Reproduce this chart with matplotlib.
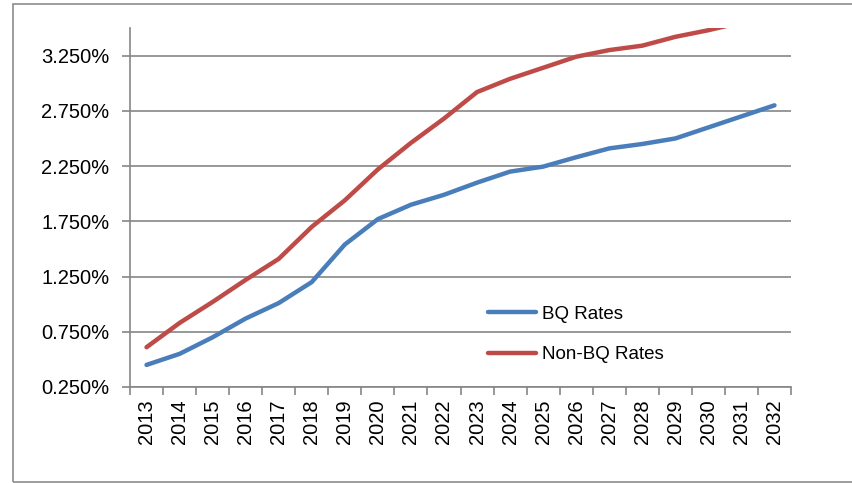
import matplotlib
matplotlib.use("Agg")
import matplotlib.pyplot as plt
from matplotlib.patches import Rectangle
from matplotlib.ticker import FixedLocator, FuncFormatter

years = [str(y) for y in range(2013, 2033)]
bq_rates = [0.45, 0.55, 0.70, 0.87, 1.01, 1.20, 1.54, 1.77, 1.90, 1.99,
            2.10, 2.20, 2.245, 2.33, 2.41, 2.45, 2.50, 2.60, 2.70, 2.80]
non_bq_rates = [0.61, 0.83, 1.02, 1.22, 1.41, 1.70, 1.94, 2.22, 2.46, 2.68,
                2.92, 3.04, 3.14, 3.24, 3.30, 3.34, 3.42, 3.48, 3.55, 3.62]
series_names = ["BQ Rates", "Non-BQ Rates"]
y_ticks = [0.25, 0.75, 1.25, 1.75, 2.25, 2.75, 3.25]

plt.rcParams['font.family'] = ['Liberation Sans', 'DejaVu Sans']

W, H = 852, 483
fig = plt.figure(figsize=(W / 100, H / 100), dpi=100)
fig.patch.set_facecolor('white')

# outer chart border
fig.patches.append(Rectangle((13 / W, 1 - 482 / H), 1.0, (482 - 4) / H,
                             transform=fig.transFigure, fill=False,
                             edgecolor='#8c8c8c', linewidth=1.2))

ax = fig.add_axes([130 / W, 1 - 387 / H, (791 - 130) / W, (387 - 28) / H])

x = list(range(len(years)))
ax.plot(x, bq_rates, color='#4a7ebb', lw=3.2, solid_capstyle='round',
        label=series_names[0], clip_on=True)
ax.plot(x, non_bq_rates, color='#be4b48', lw=3.2, solid_capstyle='round',
        label=series_names[1], clip_on=True)

ax.set_xlim(-0.5, len(years) - 0.5)
ax.set_ylim(0.25, 3.5)

ax.set_yticks(y_ticks)
ax.yaxis.set_major_formatter(FuncFormatter(lambda v, p: f"{v:.3f}%"))
ax.yaxis.grid(True, color='#868686', lw=1.2)
ax.set_axisbelow(True)

ax.set_xticks(x)
ax.set_xticklabels(years, rotation=90)
ax.xaxis.set_minor_locator(FixedLocator([i - 0.5 for i in range(len(years) + 1)]))
ax.tick_params(axis='x', which='major', length=0, pad=9, labelsize=14.5)
ax.tick_params(axis='x', which='minor', length=6, width=1.2, color='#868686',
               direction='out')
ax.tick_params(axis='y', length=6, width=1.2, color='#868686', pad=9,
               labelsize=14.5)

for s in ['top', 'right']:
    ax.spines[s].set_visible(False)
for s in ['left', 'bottom']:
    ax.spines[s].set_color('#868686')
    ax.spines[s].set_linewidth(1.2)

leg = ax.legend(loc='upper left', bbox_to_anchor=(488 / W, 1 - 305.5 / H),
                bbox_transform=fig.transFigure, frameon=False, fontsize=13.5,
                handlelength=2.55, handletextpad=0.35, borderpad=0,
                borderaxespad=0, labelspacing=1.25)

fig.savefig('out.png', dpi=100)
